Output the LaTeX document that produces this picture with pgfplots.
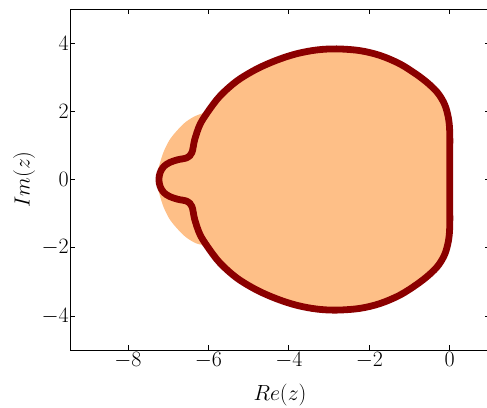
\RequirePackage{fix-cm}
\documentclass[border=0pt]{standalone}
\usepackage{pgfplots}
\pgfplotsset{compat=1.18}
\usetikzlibrary{calc}
\definecolor{peach}{RGB}{254,191,135}
\definecolor{bnd}{RGB}{139,0,0}

\begin{document}
\begin{tikzpicture}
\begin{axis}[
  scale only axis, width=420bp, height=341bp,
  xmin=-9.44, xmax=1, ymin=-5, ymax=5,
  xtick={-8,-6,-4,-2,0}, ytick={-4,-2,0,2,4},
  tick align=inside, major tick length=5bp,
  every tick/.style={black, line width=0.8bp},
  axis line style={black, line width=0.9bp},
  tick label style={font=\fontsize{22}{26}\selectfont},
  xticklabel style={yshift=1bp},
  yticklabel style={xshift=2.3bp},
  label style={font=\fontsize{22}{26}\selectfont},
  xlabel={$Re(z)$}, ylabel={$Im(z)$},
  xlabel style={at={(axis description cs:0.5,-0.1466)}, anchor=base},
  ylabel style={at={(axis description cs:-0.0964,0.5)}, anchor=base},
  axis on top,
]
% stability region (filled)
\addplot[fill=peach, draw=none, smooth, tension=0.55] coordinates {
 (-6.01,1.99) (-5.71,2.45) (-5.29,2.89) (-4.80,3.24) (-4.30,3.50) (-3.80,3.69)
 (-3.30,3.80) (-2.81,3.83) (-2.24,3.78) (-1.74,3.64) (-1.24,3.39) (-0.80,3.06)
 (-0.50,2.78) (-0.28,2.51) (-0.12,2.18) (-0.03,1.78) (0,1.35) (0,0.65) (0,0)
 (0,-0.65) (0,-1.35) (-0.03,-1.78) (-0.12,-2.18) (-0.28,-2.51) (-0.50,-2.78) (-0.80,-3.06)
 (-1.24,-3.39) (-1.74,-3.64) (-2.24,-3.78) (-2.81,-3.83) (-3.30,-3.80)
 (-3.80,-3.69) (-4.30,-3.50) (-4.80,-3.24) (-5.29,-2.89) (-5.71,-2.45) (-6.01,-1.99)
 (-6.31,-1.87) (-6.56,-1.69) (-6.76,-1.46) (-6.96,-1.17) (-7.11,-0.82)
 (-7.20,-0.50) (-7.26,-0.23) (-7.27,0) (-7.26,0.23) (-7.20,0.50) (-7.11,0.82)
 (-6.96,1.17) (-6.76,1.46) (-6.56,1.69) (-6.31,1.87) (-6.01,1.99)
} -- cycle;
% boundary curve
\addplot[draw=bnd, line width=6.8bp, smooth, tension=0.55, line join=round, line cap=round] coordinates {
 (0,0) (0,0.65) (0,1.35) (-0.03,1.78) (-0.12,2.18) (-0.28,2.51) (-0.50,2.78) (-0.80,3.06)
 (-1.24,3.39) (-1.74,3.64) (-2.24,3.78) (-2.81,3.83) (-3.30,3.80) (-3.80,3.69)
 (-4.30,3.50) (-4.80,3.24) (-5.29,2.89) (-5.71,2.45) (-6.01,1.99)
 (-6.21,1.61) (-6.34,1.17) (-6.41,0.79) (-6.53,0.64) (-6.76,0.58)
 (-6.96,0.50) (-7.11,0.38) (-7.20,0.20) (-7.23,0)
 (-7.20,-0.20) (-7.11,-0.38) (-6.96,-0.50) (-6.76,-0.58) (-6.53,-0.64)
 (-6.41,-0.79) (-6.34,-1.17) (-6.21,-1.61) (-6.01,-1.99) (-5.71,-2.45)
 (-5.29,-2.89) (-4.80,-3.24) (-4.30,-3.50) (-3.80,-3.69) (-3.30,-3.80)
 (-2.81,-3.83) (-2.24,-3.78) (-1.74,-3.64) (-1.24,-3.39) (-0.80,-3.06)
 (-0.50,-2.78) (-0.28,-2.51) (-0.12,-2.18) (-0.03,-1.78) (0,-1.35) (0,-0.65) (0,0)
};
\coordinate (sw) at (rel axis cs:0,0);
\coordinate (ne) at (rel axis cs:1,1);
\end{axis}
\pgfresetboundingbox
\path ($(sw)+(-70bp,-57bp)$) rectangle ($(ne)+(-3bp,9bp)$);
\end{tikzpicture}
\end{document}
